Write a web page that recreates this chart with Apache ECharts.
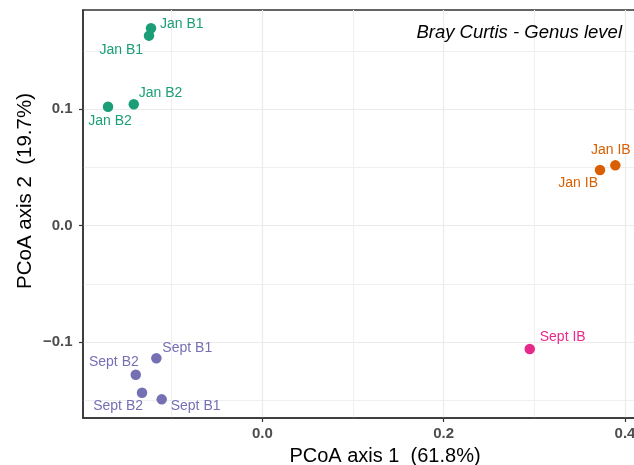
<!DOCTYPE html>
<html><head><meta charset="utf-8">
<script src="https://cdn.jsdelivr.net/npm/echarts@6/dist/echarts.min.js"></script>
<style>html,body{margin:0;padding:0;background:#fff}#c{width:634px;height:465px}</style>
</head><body><div id="c"></div>
<script>
// ---- data ----
const janB_names = ['Jan B1', 'Jan B1', 'Jan B2', 'Jan B2'];
const janB_x = [-0.1228, -0.1250, -0.1702, -0.1418];
const janB_y = [0.1694, 0.1631, 0.1021, 0.1042];

const janIB_names = ['Jan IB', 'Jan IB'];
const janIB_x = [0.3724, 0.3893];
const janIB_y = [0.0478, 0.0518];

const septB_names = ['Sept B1', 'Sept B2', 'Sept B2', 'Sept B1'];
const septB_x = [-0.1169, -0.1396, -0.1327, -0.1110];
const septB_y = [-0.1138, -0.1279, -0.1433, -0.1490];

const septIB_names = ['Sept IB'];
const septIB_x = [0.2949];
const septIB_y = [-0.1058];

const xMajorTicks = [0, 0.2, 0.4];
const xMinorTicks = [-0.1, 0.1, 0.3];
const yMajorTicks = [-0.1, 0, 0.1];
const yMinorTicks = [-0.15, -0.05, 0.05, 0.15];

const xMin = -0.1978, xMax = 0.4154;
const yMin = -0.165, yMax = 0.1851;

// ---- label placement (style only): [align, dx, dy] ----
const labelPlacement = {
  janB: [['left', 9, -4], ['right', -6, 15], ['center', 2, 14], ['left', 5, -11.5]],
  janIB: [['right', -2, 13.5], ['center', -4.5, -15.5]],
  septB: [['left', 6, -10], ['right', 3, -13], ['right', 1, 13.5], ['left', 9, 7]],
  septIB: [['left', 10, -12]]
};

const FONT = 'Liberation Sans, Arial, Helvetica, sans-serif';

function makeSeries(name, color, xs, ys, names, place) {
  return {
    type: 'scatter',
    name: name,
    symbolSize: 10.5,
    itemStyle: { color: color, opacity: 1 },
    emphasis: { disabled: true },
    data: xs.map((x, i) => ({
      value: [x, ys[i]],
      name: names[i],
      label: {
        show: true,
        position: 'inside',
        formatter: '{b}',
        align: place[i][0],
        verticalAlign: 'middle',
        offset: [place[i][1], place[i][2]],
        color: color,
        fontSize: 14,
        fontFamily: FONT
      }
    }))
  };
}

function fmt(v) {
  if (Math.abs(v) < 1e-9) return '0.0';
  return (v < 0 ? '\u2212' : '') + Math.abs(v).toFixed(1);
}

const chart = echarts.init(document.getElementById('c'), null, { renderer: 'canvas' });
chart.setOption({
  animation: false,
  backgroundColor: '#fff',
  title: {
    text: 'Bray Curtis - Genus level',
    right: 12, top: 23, padding: 0,
    textStyle: { fontStyle: 'italic', fontWeight: 'normal', fontSize: 18.5, color: '#000', fontFamily: FONT }
  },
  grid: {
    left: 83, top: 10, right: -5, bottom: 47,
    outerBoundsMode: 'none',
    containLabel: false,
    show: true, borderColor: '#333', borderWidth: 1.5, backgroundColor: 'transparent'
  },
  xAxis: [
    {
      type: 'value', min: xMin, max: xMax, position: 'bottom',
      axisLine: { show: true, onZero: false, lineStyle: { color: '#333', width: 1.5 } },
      axisTick: { show: true, length: 4, customValues: xMajorTicks, lineStyle: { color: '#333', width: 1.2 } },
      axisLabel: { customValues: xMajorTicks, formatter: fmt, color: '#4D4D4D', fontWeight: 'bold', fontSize: 15, margin: 8, fontFamily: FONT },
      splitLine: { show: true, lineStyle: { color: '#EBEBEB', width: 1.2 } },
      name: 'PCoA axis 1  (61.8%)', nameLocation: 'middle', nameGap: 28.5,
      nameMoveOverlap: false,
      nameTextStyle: { color: '#000', fontSize: 20, fontFamily: FONT, padding: [0, 0, 0, 48] },
      z: 1
    },
    {
      type: 'value', min: xMin, max: xMax, position: 'bottom',
      axisLine: { show: false }, axisLabel: { show: false },
      axisTick: { show: false, customValues: xMinorTicks },
      splitLine: { show: true, lineStyle: { color: '#EFEFEF', width: 1 } },
      z: 0
    }
  ],
  yAxis: [
    {
      type: 'value', min: yMin, max: yMax, position: 'left',
      axisLine: { show: true, onZero: false, lineStyle: { color: '#333', width: 1.5 } },
      axisTick: { show: true, length: 4, customValues: yMajorTicks, lineStyle: { color: '#333', width: 1.2 } },
      axisLabel: { customValues: yMajorTicks, formatter: fmt, color: '#4D4D4D', fontWeight: 'bold', fontSize: 15, margin: 10.5, fontFamily: FONT },
      splitLine: { show: true, lineStyle: { color: '#EBEBEB', width: 1.2 } },
      name: 'PCoA axis 2  (19.7%)', nameLocation: 'middle', nameGap: 47,
      nameMoveOverlap: false,
      nameTextStyle: { color: '#000', fontSize: 20.5, fontFamily: FONT, padding: [0, 0, 0, 46] },
      z: 1
    },
    {
      type: 'value', min: yMin, max: yMax, position: 'left',
      axisLine: { show: false }, axisLabel: { show: false },
      axisTick: { show: false, customValues: yMinorTicks },
      splitLine: { show: true, lineStyle: { color: '#EFEFEF', width: 1 } },
      z: 0
    }
  ],
  series: [
    makeSeries('Jan B', '#1B9E77', janB_x, janB_y, janB_names, labelPlacement.janB),
    makeSeries('Jan IB', '#D95F02', janIB_x, janIB_y, janIB_names, labelPlacement.janIB),
    makeSeries('Sept B', '#7570B3', septB_x, septB_y, septB_names, labelPlacement.septB),
    makeSeries('Sept IB', '#E7298A', septIB_x, septIB_y, septIB_names, labelPlacement.septIB)
  ]
});
</script>
</body></html>
